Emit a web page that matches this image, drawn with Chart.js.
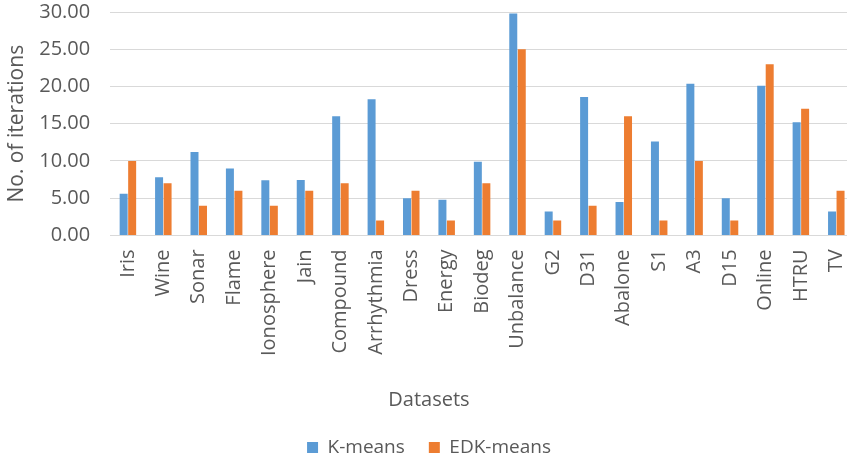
<!DOCTYPE html>
<html>
<head>
<meta charset="utf-8">
<script src="https://cdn.jsdelivr.net/npm/chart.js@4"></script>
<style>
  html, body { margin: 0; padding: 0; background: #fff; overflow: hidden; }
</style>
</head>
<body>
<canvas id="iter_canvas" width="858" height="461"></canvas>
<script>
var datasets_names = ['Iris', 'Wine', 'Sonar', 'Flame', 'Ionosphere', 'Jain', 'Compound', 'Arrhythmia',
  'Dress', 'Energy', 'Biodeg', 'Unbalance', 'G2', 'D31', 'Abalone', 'S1', 'A3', 'D15', 'Online', 'HTRU', 'TV'];
var kmeans_iters = [5.6, 7.8, 11.2, 9.0, 7.4, 7.45, 16.0, 18.3, 5.0, 4.8, 9.9, 29.8, 3.2, 18.6, 4.5, 12.6, 20.35, 5.0, 20.1, 15.2, 3.2];
var edk_iters = [10, 7, 4, 6, 4, 6, 7, 2, 6, 2, 7, 25, 2, 4, 16, 2, 10, 2, 23, 17, 6];

var text_grey = '#595959';
var font_family = '"Open Sans", "Noto Sans", sans-serif';

// drop the extra side padding chart.js reserves for rotated / edge labels
function no_edge_padding(scale){
  scale.paddingLeft = 0;
  scale.paddingRight = 0;
  scale.paddingTop = 0;
  scale.paddingBottom = 0;
}

// y axis reserves more room than its labels need, pull the plot left
function tight_y_axis(scale){
  no_edge_padding(scale);
  scale.width -= 20;
}

window.onload = function(){
  var ctx = document.getElementById("iter_canvas").getContext("2d");
  window.iter_chart = new Chart(ctx, {
    type: 'bar',
    data: {
      labels: datasets_names,
      datasets: [{
        label: 'K-means',
        data: kmeans_iters,
        backgroundColor: '#5b9bd5'
      }, {
        label: 'EDK-means',
        data: edk_iters,
        backgroundColor: '#ed7d31'
      }]
    },
    options: {
      responsive: false,
      animation: false,
      layout: { padding: { left: 4, top: 12, right: 4, bottom: -6 } },
      datasets: {
        bar: { categoryPercentage: 0.48, barPercentage: 0.94 }
      },
      scales: {
        x: {
          afterFit: no_edge_padding,
          grid: { display: false, drawTicks: false },
          border: { color: '#d9d9d9', width: 1 },
          ticks: {
            color: text_grey,
            font: { family: font_family, size: 20 },
            minRotation: 90, maxRotation: 90,
            autoSkip: false,
            padding: 14
          }
        },
        y: {
          min: 0, max: 30,
          afterFit: tight_y_axis,
          grid: { color: '#d9d9d9', drawTicks: false },
          border: { display: false },
          ticks: {
            stepSize: 5,
            color: text_grey,
            font: { family: font_family, size: 20 },
            padding: 20,
            callback: function(v){ return v.toFixed(2); }
          },
          title: {
            display: true,
            text: 'No. of iterations',
            color: text_grey,
            font: { family: font_family, size: 21 },
            padding: { top: 0, bottom: 10 }
          }
        }
      },
      plugins: {
        tooltip: { enabled: false },
        title: {
          display: true,
          position: 'bottom',
          weight: 500,
          text: 'Datasets',
          color: text_grey,
          font: { family: font_family, size: 20, weight: 'normal' },
          padding: { top: 18, bottom: 2 }
        },
        legend: {
          position: 'bottom',
          labels: {
            color: text_grey,
            font: { family: font_family, size: 19 },
            boxWidth: 11,
            boxHeight: 11,
            padding: 24
          }
        }
      }
    }
  });
}
</script>
</body>
</html>
